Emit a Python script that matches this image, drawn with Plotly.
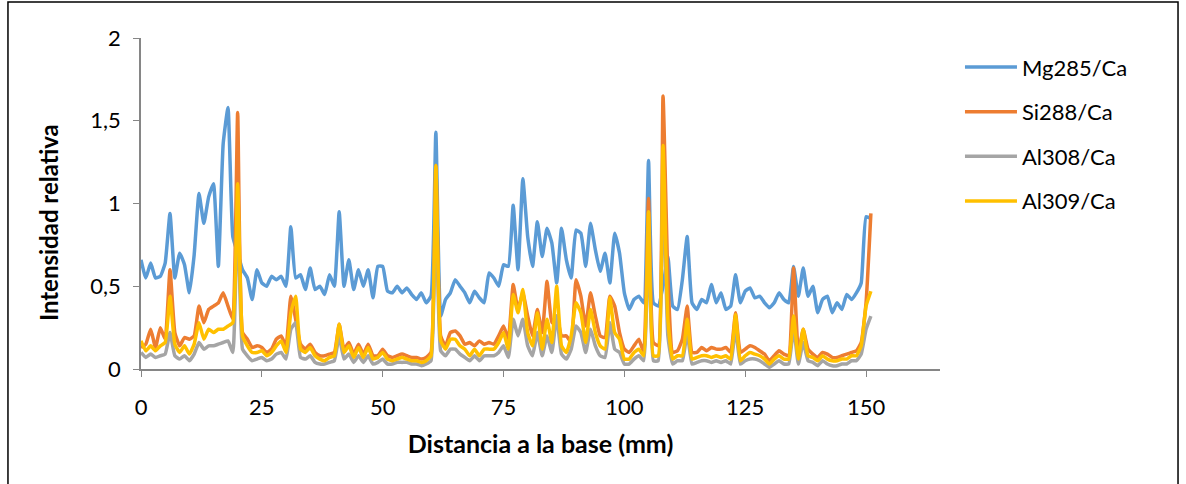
import plotly.graph_objects as go

# distance from base (mm), one reading per mm
distancia = list(range(0, 152))

mg285 = [
    0.66, 0.55, 0.64, 0.55, 0.56, 0.64, 0.94, 0.55, 0.70, 0.63,
    0.46, 0.69, 1.06, 0.88, 1.04, 1.12, 0.62, 1.36, 1.58, 0.80,
    0.70, 0.60, 0.55, 0.42, 0.60, 0.52, 0.50, 0.56, 0.54, 0.56,
    0.50, 0.86, 0.55, 0.57, 0.48, 0.61, 0.48, 0.50, 0.45, 0.57,
    0.50, 0.95, 0.50, 0.66, 0.48, 0.60, 0.50, 0.60, 0.43, 0.62,
    0.62, 0.47, 0.46, 0.50, 0.46, 0.49, 0.45, 0.42, 0.46, 0.40,
    0.44, 1.43, 0.32, 0.42, 0.46, 0.54, 0.50, 0.46, 0.40, 0.47,
    0.43, 0.40, 0.58, 0.55, 0.50, 0.63, 0.62, 0.99, 0.60, 1.15,
    0.80, 0.62, 0.89, 0.68, 0.85, 0.76, 0.52, 0.85, 0.66, 0.55,
    0.84, 0.82, 0.62, 0.88, 0.72, 0.59, 0.70, 0.52, 0.82, 0.70,
    0.46, 0.36, 0.42, 0.44, 0.40, 1.26, 0.40, 0.38, 0.50, 0.68,
    0.38, 0.36, 0.54, 0.80, 0.40, 0.36, 0.42, 0.40, 0.51, 0.40,
    0.46, 0.36, 0.38, 0.57, 0.40, 0.47, 0.49, 0.43, 0.44, 0.40,
    0.37, 0.40, 0.46, 0.42, 0.40, 0.62, 0.44, 0.61, 0.44, 0.50,
    0.34, 0.42, 0.44, 0.34, 0.40, 0.36, 0.45, 0.42, 0.46, 0.52,
    0.92, 0.91,
]

si288 = [
    0.13, 0.15, 0.24, 0.13, 0.25, 0.18, 0.60, 0.22, 0.14, 0.19,
    0.18, 0.20, 0.38, 0.28, 0.36, 0.38, 0.40, 0.46, 0.38, 0.30,
    1.55, 0.22, 0.18, 0.13, 0.14, 0.13, 0.10, 0.12, 0.18, 0.20,
    0.14, 0.44, 0.30, 0.15, 0.12, 0.15, 0.10, 0.08, 0.08, 0.09,
    0.10, 0.27, 0.12, 0.16, 0.09, 0.15, 0.09, 0.15, 0.08, 0.08,
    0.12, 0.08, 0.07, 0.08, 0.09, 0.08, 0.07, 0.07, 0.06, 0.07,
    0.10, 1.23, 0.20, 0.14, 0.22, 0.23, 0.20, 0.15, 0.16, 0.14,
    0.17, 0.15, 0.16, 0.15, 0.20, 0.26, 0.18, 0.51, 0.36, 0.46,
    0.32, 0.20, 0.36, 0.22, 0.53, 0.28, 0.32, 0.20, 0.20, 0.16,
    0.54, 0.44, 0.26, 0.46, 0.32, 0.20, 0.19, 0.44, 0.38, 0.22,
    0.12, 0.10, 0.14, 0.18, 0.10, 1.03, 0.16, 0.14, 1.65, 0.56,
    0.10, 0.11, 0.18, 0.38, 0.10, 0.10, 0.13, 0.11, 0.13, 0.12,
    0.12, 0.13, 0.10, 0.34, 0.10, 0.12, 0.14, 0.13, 0.11, 0.09,
    0.05, 0.08, 0.11, 0.09, 0.08, 0.61, 0.10, 0.24, 0.12, 0.09,
    0.07, 0.10, 0.09, 0.07, 0.07, 0.08, 0.09, 0.10, 0.11, 0.16,
    0.40, 0.94,
]

al308 = [
    0.10, 0.07, 0.09, 0.07, 0.08, 0.09, 0.22, 0.08, 0.06, 0.08,
    0.05, 0.09, 0.16, 0.12, 0.14, 0.14, 0.15, 0.16, 0.17, 0.10,
    1.00, 0.12, 0.08, 0.05, 0.06, 0.07, 0.05, 0.06, 0.09, 0.10,
    0.06, 0.24, 0.28, 0.07, 0.06, 0.08, 0.04, 0.03, 0.03, 0.04,
    0.05, 0.20, 0.06, 0.09, 0.04, 0.08, 0.04, 0.08, 0.03, 0.04,
    0.06, 0.03, 0.03, 0.04, 0.04, 0.04, 0.03, 0.03, 0.02, 0.03,
    0.05, 1.10, 0.11, 0.08, 0.12, 0.12, 0.09, 0.07, 0.05, 0.08,
    0.05, 0.08, 0.08, 0.08, 0.10, 0.14, 0.07, 0.30, 0.20, 0.30,
    0.14, 0.08, 0.22, 0.08, 0.20, 0.10, 0.32, 0.09, 0.06, 0.12,
    0.26, 0.22, 0.10, 0.24, 0.14, 0.08, 0.07, 0.28, 0.12, 0.10,
    0.03, 0.03, 0.06, 0.08, 0.05, 0.85, 0.05, 0.05, 1.20, 0.20,
    0.03, 0.05, 0.05, 0.22, 0.03, 0.04, 0.05, 0.05, 0.04, 0.05,
    0.04, 0.05, 0.03, 0.25, 0.03, 0.05, 0.06, 0.06, 0.05, 0.03,
    0.01, 0.03, 0.05, 0.03, 0.03, 0.25, 0.03, 0.16, 0.05, 0.04,
    0.02, 0.05, 0.03, 0.02, 0.02, 0.03, 0.03, 0.05, 0.05, 0.09,
    0.24, 0.32,
]

al309 = [
    0.17, 0.11, 0.14, 0.11, 0.14, 0.16, 0.44, 0.15, 0.10, 0.14,
    0.09, 0.15, 0.28, 0.18, 0.24, 0.22, 0.24, 0.24, 0.26, 0.28,
    1.12, 0.20, 0.14, 0.10, 0.10, 0.11, 0.08, 0.10, 0.14, 0.17,
    0.10, 0.34, 0.44, 0.12, 0.10, 0.13, 0.08, 0.06, 0.05, 0.07,
    0.08, 0.27, 0.10, 0.14, 0.07, 0.13, 0.07, 0.13, 0.06, 0.07,
    0.10, 0.06, 0.05, 0.06, 0.07, 0.06, 0.05, 0.05, 0.04, 0.05,
    0.08, 1.23, 0.17, 0.12, 0.18, 0.18, 0.14, 0.12, 0.08, 0.12,
    0.08, 0.12, 0.12, 0.12, 0.16, 0.22, 0.12, 0.45, 0.34, 0.48,
    0.22, 0.14, 0.34, 0.12, 0.30, 0.16, 0.50, 0.14, 0.10, 0.20,
    0.40, 0.34, 0.16, 0.36, 0.22, 0.14, 0.12, 0.43, 0.22, 0.18,
    0.06, 0.06, 0.10, 0.12, 0.08, 0.95, 0.08, 0.08, 1.35, 0.30,
    0.06, 0.08, 0.08, 0.30, 0.06, 0.07, 0.08, 0.08, 0.07, 0.08,
    0.07, 0.08, 0.06, 0.33, 0.05, 0.08, 0.10, 0.09, 0.08, 0.06,
    0.03, 0.06, 0.08, 0.06, 0.06, 0.32, 0.06, 0.24, 0.08, 0.07,
    0.05, 0.08, 0.06, 0.05, 0.05, 0.06, 0.06, 0.08, 0.08, 0.14,
    0.38, 0.47,
]

y_ticks = [0, 0.5, 1, 1.5, 2]
y_labels = ["0", "0,5", "1", "1,5", "2"]
x_ticks = [0, 25, 50, 75, 100, 125, 150]

series = [
    ("Mg285/Ca", mg285, "#5B9BD5"),
    ("Si288/Ca", si288, "#ED7D31"),
    ("Al308/Ca", al308, "#A5A5A5"),
    ("Al309/Ca", al309, "#FFC000"),
]

fig = go.Figure()
for i, (name, vals, col) in enumerate(series):
    fig.add_trace(
        go.Scatter(
            x=distancia,
            y=vals,
            name=name,
            mode="lines",
            legendgroup=str(i),
            line=dict(color=col, width=3.5, shape="spline", smoothing=0.4),
        )
    )

fig.update_layout(
    width=1186,
    height=484,
    autosize=False,
    plot_bgcolor="white",
    paper_bgcolor="white",
    font=dict(family="Lato, Open Sans, sans-serif", size=22, color="black"),
    margin=dict(l=141, r=246, t=38, b=115),
    showlegend=True,
    legend=dict(
        x=1.025,
        y=0.975,
        xanchor="left",
        yanchor="top",
        traceorder="grouped",
        tracegroupgap=13,
        itemwidth=52,
        font=dict(size=22),
        bgcolor="rgba(0,0,0,0)",
    ),
    # outer frame of the chart
    shapes=[
        dict(
            type="rect",
            xref="paper",
            yref="paper",
            x0=-0.1665,
            x1=1.2979,
            y0=-0.40,
            y1=1.109,
            line=dict(color="black", width=1.5),
            fillcolor="rgba(0,0,0,0)",
        )
    ],
    # y title placed by hand, it sits a bit below the plot centre
    annotations=[
        dict(
            text="<b>Intensidad relativa</b>",
            xref="paper",
            yref="paper",
            x=-0.1164,
            y=0.444,
            textangle=-90,
            showarrow=False,
            font=dict(size=24),
            xanchor="center",
            yanchor="middle",
        )
    ],
)

fig.update_xaxes(
    range=[0, 165.3],
    tickvals=x_ticks,
    ticks="outside",
    ticklen=6,
    tickcolor="#868686",
    showline=True,
    linecolor="#868686",
    linewidth=1.5,
    showgrid=False,
    zeroline=False,
    ticklabelstandoff=12,
    title=dict(
        text="<b>Distancia a la base (mm)</b>",
        font=dict(size=25),
        standoff=16,
    ),
)

fig.update_yaxes(
    range=[0, 2],
    tickvals=y_ticks,
    ticktext=y_labels,
    ticks="outside",
    ticklen=6,
    tickcolor="#868686",
    showline=True,
    linecolor="#868686",
    linewidth=1.5,
    showgrid=False,
    zeroline=False,
    ticklabelstandoff=8,
)

fig.write_html(
    "out.html",
    config={"displayModeBar": False},
    post_script="document.body.style.margin='0px';",
)
